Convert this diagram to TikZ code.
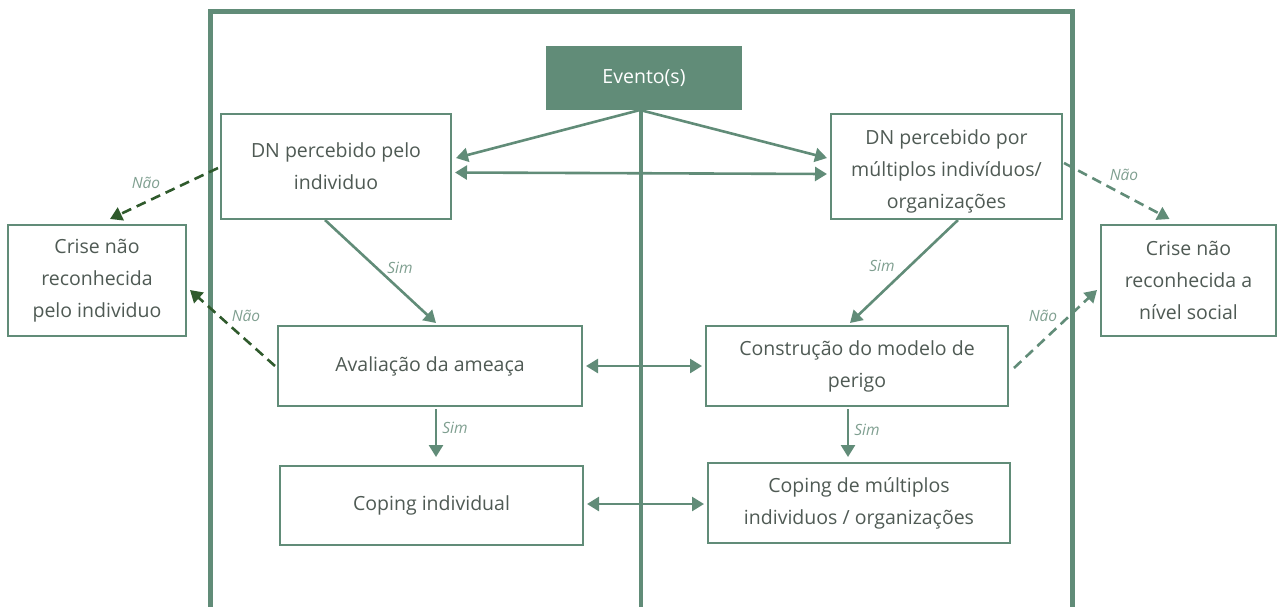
\documentclass[tikz,border=0pt]{standalone}
\usepackage{fontspec}
\setmainfont{Open Sans}
\usetikzlibrary{arrows.meta}
\definecolor{gr}{HTML}{618C78}
\definecolor{dkg}{HTML}{2F5A2C}
\definecolor{txt}{HTML}{4F5A54}
\definecolor{lab}{HTML}{7F9F90}
\tikzset{
  tstyle/.style={text=txt, align=center, inner sep=0pt, font=\fontsize{19.5}{32}\selectfont},
  box/.style={tstyle, draw=gr, line width=2pt, fill=white},
  arr/.style={draw=gr, line width=2.6pt, -{Triangle[length=12pt,width=14pt]}},
  darr/.style={draw=gr, line width=2.6pt, {Triangle[length=12pt,width=14pt]}-{Triangle[length=12pt,width=14pt]}},
  nao/.style={line width=2.6pt, dash pattern=on 10pt off 6pt, -{Triangle[length=12pt,width=14pt]}},
  lbl/.style={text=lab, font=\fontsize{15.5}{17}\selectfont\itshape, inner sep=0pt},
}
\begin{document}
\begin{tikzpicture}[x=1pt, y=-1pt]
\useasboundingbox (0,0) rectangle (1277,606);
% outer frame
\draw[gr, line width=5pt] (210,11) rectangle (1072,640);
% nodes
\node[box, fill=gr, draw=gr, text=white, minimum width=194pt, minimum height=62pt] (ev) at (644,78) {Evento(s)};
\coordinate (bot) at (641,640);
\draw[gr, line width=4pt] (ev.south -| bot) -- (bot);
\node[box, minimum width=230pt, minimum height=105pt] (dnl) at (336,166.5) {DN percebido pelo\\individuo};
\node[box, minimum width=231pt, minimum height=105pt] (dnr) at (946.5,166.5) {};
\node[tstyle] (dnrt) at (946.5,171) {DN percebido por\\múltiplos indivíduos/\\organizações};
\node[box, minimum width=178pt, minimum height=111pt] (cl) at (97,280.5) {Crise não\\reconhecida\\pelo individuo};
\node[box, minimum width=175pt, minimum height=111pt] (cr) at (1188.5,280.5) {Crise não\\reconhecida a\\nível social};
\node[box, minimum width=304pt, minimum height=80pt] (ava) at (430,366) {Avaliação da ameaça};
\node[box, minimum width=302pt, minimum height=80pt] (con) at (857,366) {Construção do modelo de\\perigo};
\node[box, minimum width=303pt, minimum height=79pt] (cpi) at (431.5,505.5) {Coping individual};
\node[box, minimum width=302pt, minimum height=80pt] (cpm) at (859,503) {Coping de múltiplos\\individuos / organizações};
% arrows from event
\draw[arr] ([xshift=-4pt]ev.south) -- ([yshift=8.5pt,xshift=4pt]dnl.east);
\draw[arr] ([xshift=-4pt]ev.south) -- ([yshift=8.5pt,xshift=-3pt]dnr.west);
\draw[darr] ([yshift=-6pt,xshift=3pt]dnl.east) -- ([yshift=-7.5pt,xshift=-3pt]dnr.west);
% Sim arrows
\draw[arr] ([xshift=-11pt]dnl.south) -- ([xshift=6pt,yshift=2pt]ava.north);
\draw[arr] ([xshift=11.5pt]dnr.south) -- ([xshift=-7pt,yshift=2pt]con.north);
\draw[arr] ([xshift=6pt,yshift=-2pt]ava.south) -- ([xshift=4.5pt,yshift=8pt]cpi.north);
\draw[arr] ([xshift=-9pt,yshift=-2pt]con.south) -- ([xshift=-11pt,yshift=5pt]cpm.north);
\node[lbl] (s1) at (400,268) {Sim};
\node[lbl] (s2) at (882,266) {Sim};
\node[lbl] (s3) at (455,428) {Sim};
\node[lbl] (s4) at (867,430) {Sim};
% double arrows between columns
\draw[darr] ([xshift=3pt]ava.east) -- ([xshift=-3pt]con.west);
\draw[darr] ([xshift=3pt,yshift=1.5pt]cpi.east) -- ([xshift=-3pt,yshift=-1pt]cpm.west);
% Nao arrows
\draw[nao, dkg] ([xshift=-2pt,yshift=-1.5pt]dnl.west) -- ([xshift=13pt,yshift=5pt]cl.north);
\draw[nao, dkg] ([xshift=-2pt]ava.west) -- ([xshift=3pt,yshift=-9.5pt]cl.east);
\draw[nao, gr] ([xshift=1pt,yshift=3.5pt]dnr.east) -- ([xshift=-19pt,yshift=5pt]cr.north);
\draw[nao, gr] ([xshift=5pt,yshift=-2pt]con.east) -- ([xshift=-3pt,yshift=-9.5pt]cr.west);
\node[lbl] (n1) at (146,183) {Não};
\node[lbl] (n2) at (246,316) {Não};
\node[lbl] (n3) at (1124,175) {Não};
\node[lbl] (n4) at (1043,316) {Não};
\end{tikzpicture}
\end{document}
